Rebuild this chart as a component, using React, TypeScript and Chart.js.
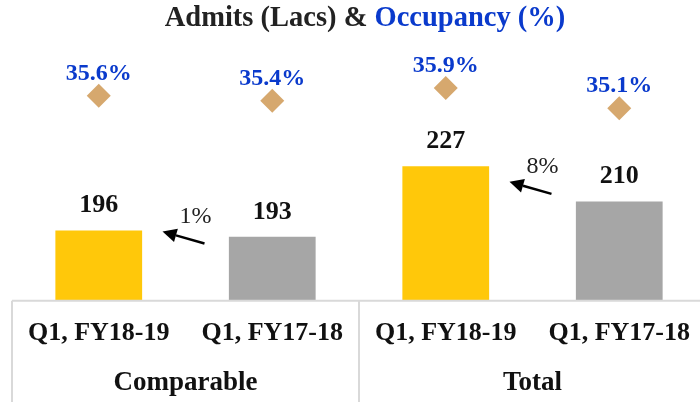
import React, { useEffect, useRef } from "react";
import { Chart, registerables } from "chart.js";

Chart.register(...registerables);

const categories = ["Q1, FY18-19", "Q1, FY17-18", "Q1, FY18-19", "Q1, FY17-18"];
const groups = ["Comparable", "Total"];
const admits = [196, 193, 227, 210];
const occupancy = [35.6, 35.4, 35.9, 35.1];
const occupancyLabels = ["35.6%", "35.4%", "35.9%", "35.1%"];
const growthLabels = ["1%", "8%"];
const barColors = ["#FFC80A", "#A6A6A6", "#FFC80A", "#A6A6A6"];

const SERIF = '"Liberation Serif", "Times New Roman", serif';
const BLUE = "#0A3ACC";

const overlay = {
  id: "overlay",
  afterDatasetsDraw(chart: any) {
    const ctx = chart.ctx as CanvasRenderingContext2D;
    const { left, right, bottom } = chart.chartArea;
    const xs = chart.scales.x;
    const bars = chart.getDatasetMeta(0).data;
    const pts = chart.getDatasetMeta(1).data;
    ctx.save();

    // axis & group separators
    ctx.strokeStyle = "#D9D9D9";
    ctx.lineWidth = 2;
    const sep = xs.getPixelForValue(1.5);
    ctx.beginPath();
    ctx.moveTo(left, bottom);
    ctx.lineTo(right, bottom);
    ctx.moveTo(left, bottom);
    ctx.lineTo(left, chart.height);
    ctx.moveTo(sep, bottom);
    ctx.lineTo(sep, chart.height);
    ctx.stroke();

    // group labels
    ctx.fillStyle = "#111";
    ctx.font = `bold 27px ${SERIF}`;
    ctx.textAlign = "center";
    ctx.textBaseline = "alphabetic";
    ctx.fillText(groups[0], (left + sep) / 2, 390);
    ctx.fillText(groups[1], (sep + right) / 2, 390);

    // bar value labels
    ctx.font = `bold 26px ${SERIF}`;
    bars.forEach((b: any, i: number) => {
      ctx.fillText(String(admits[i]), b.x, b.y - 18);
    });

    // occupancy labels
    ctx.fillStyle = BLUE;
    ctx.font = `bold 24px ${SERIF}`;
    pts.forEach((p: any, i: number) => {
      ctx.fillText(occupancyLabels[i], p.x, p.y - 16);
    });

    // growth arrows
    for (let g = 0; g < growthLabels.length; g++) {
      const a = bars[g * 2];
      const b = bars[g * 2 + 1];
      const aRight = a.x + a.width / 2;
      const bLeft = b.x - b.width / 2;
      const mx = (aRight + bLeft) / 2 - 2;
      const my = (a.y + b.y) / 2 + 4;
      const tx = mx + 21, ty = my + 6;
      const hx = mx - 21, hy = my - 6;
      const ang = Math.atan2(hy - ty, hx - tx);
      const hl = 14, hw = 7;
      const bx = hx - Math.cos(ang) * hl, by = hy - Math.sin(ang) * hl;
      ctx.strokeStyle = "#000";
      ctx.fillStyle = "#000";
      ctx.lineWidth = 2.5;
      ctx.beginPath();
      ctx.moveTo(tx, ty);
      ctx.lineTo(bx, by);
      ctx.stroke();
      ctx.beginPath();
      ctx.moveTo(hx, hy);
      ctx.lineTo(bx + Math.sin(ang) * hw, by - Math.cos(ang) * hw);
      ctx.lineTo(bx - Math.sin(ang) * hw, by + Math.cos(ang) * hw);
      ctx.closePath();
      ctx.fill();
      ctx.font = `24px ${SERIF}`;
      ctx.textBaseline = "middle";
      ctx.fillStyle = "#222";
      ctx.fillText(growthLabels[g], mx + 12, my - 21);
      ctx.textBaseline = "alphabetic";
    }

    // title
    ctx.font = `bold 28.5px ${SERIF}`;
    ctx.textAlign = "left";
    ctx.textBaseline = "middle";
    const t1 = "Admits (Lacs) & ";
    const t2 = "Occupancy (%)";
    const w1 = ctx.measureText(t1).width;
    const w2 = ctx.measureText(t2).width;
    const cx = (left + right) / 2 + 6;
    const sx = cx - (w1 + w2) / 2;
    ctx.fillStyle = "#222";
    ctx.fillText(t1, sx, 19);
    ctx.fillStyle = BLUE;
    ctx.fillText(t2, sx + w1, 19);

    ctx.restore();
  },
};

export default function App() {
  const ref = useRef<HTMLCanvasElement>(null);
  useEffect(() => {
    if (!ref.current) return;
    const chart = new Chart(ref.current, {
      type: "bar",
      data: {
        labels: categories,
        datasets: [
          {
            type: "bar",
            label: "Admits (Lacs)",
            data: admits,
            backgroundColor: barColors,
            borderWidth: 0,
            barPercentage: 0.5,
            categoryPercentage: 1,
            yAxisID: "y",
            order: 2,
          },
          {
            type: "line",
            label: "Occupancy (%)",
            data: occupancy,
            showLine: false,
            pointStyle: "rectRot",
            pointRadius: 12,
            pointHoverRadius: 12,
            backgroundColor: "#D6A86E",
            borderColor: "#D6A86E",
            borderWidth: 0,
            yAxisID: "y2",
            order: 1,
          },
        ],
      } as any,
      options: {
        animation: false,
        responsive: false,
        layout: { padding: { left: 6, right: 2, top: 40, bottom: 36 } },
        plugins: {
          legend: { display: false },
          tooltip: { enabled: false },
          title: { display: false },
        },
        scales: {
          x: {
            grid: { display: false, drawTicks: false },
            border: { display: false },
            ticks: {
              padding: 17,
              color: "#111",
              font: { family: SERIF, size: 26, weight: "bold" },
              maxRotation: 0,
              autoSkip: false,
            },
          },
          y: { display: false, min: 162, max: 288 },
          y2: { display: false, min: 27.5, max: 37.8, position: "right" },
        },
      } as any,
      plugins: [overlay],
    });
    return () => chart.destroy();
  }, []);
  return (
    <div
      style={{
        position: "absolute",
        left: 0,
        top: 0,
        width: 700,
        height: 402,
        overflow: "hidden",
        background: "#fff",
      }}
    >
      <canvas ref={ref} width={718} height={402} style={{ display: "block" }} />
    </div>
  );
}
